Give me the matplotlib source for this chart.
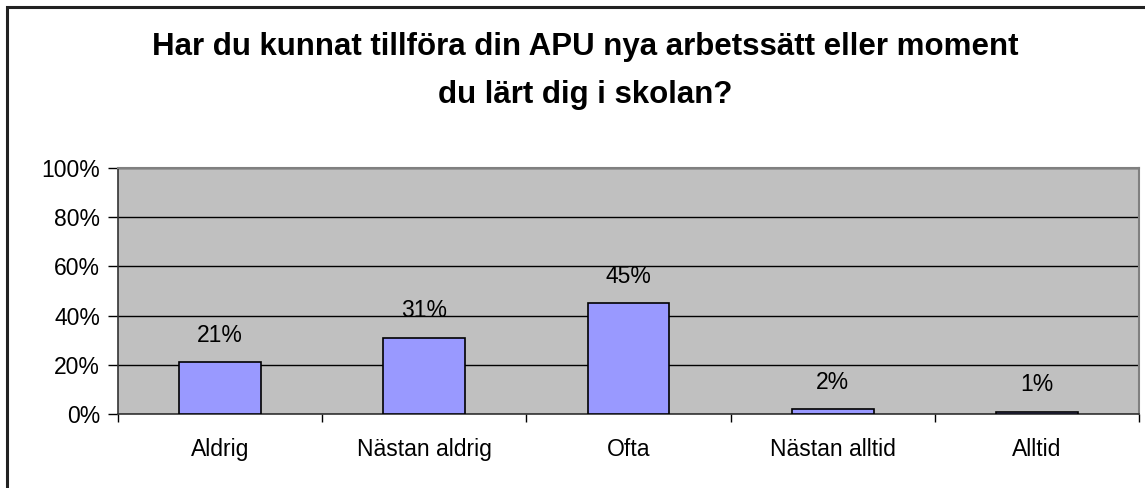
import matplotlib
matplotlib.use("Agg")
import matplotlib.pyplot as plt
from matplotlib.patches import Rectangle
from matplotlib.ticker import FixedLocator, NullFormatter

categories = ["Aldrig", "Nästan aldrig", "Ofta", "Nästan alltid", "Alltid"]
values = [21, 31, 45, 2, 1]
labels = ["21%", "31%", "45%", "2%", "1%"]
yticks = [0, 20, 40, 60, 80, 100]
ytick_labels = ["0%", "20%", "40%", "60%", "80%", "100%"]
title = "Har du kunnat tillföra din APU nya arbetssätt eller moment\ndu lärt dig i skolan?"

W, H = 1145, 488
fig = plt.figure(figsize=(W / 100, H / 100), dpi=100)
plt.rcParams['font.family'] = ['Liberation Sans', 'DejaVu Sans']

ax = fig.add_axes([118 / W, (H - 414) / H, (1139 - 118) / W, (414 - 168) / H])
ax.set_facecolor("#C0C0C0")
x = list(range(len(categories)))
ax.bar(x, values, width=0.4, color="#9999FF", edgecolor="black", linewidth=1.2, zorder=3)
for xi, v, lab in zip(x, values, labels):
    ax.annotate(lab, (xi, v), xytext=(0, 11), textcoords="offset points",
                ha="center", va="bottom", fontsize=16.5)

ax.set_xlim(-0.5, len(categories) - 0.5)
ax.set_ylim(0, 100)
ax.set_yticks(yticks)
ax.set_yticklabels(ytick_labels, fontsize=16.5)
ax.yaxis.grid(True, color="black", linewidth=1.0, zorder=1)
ax.set_axisbelow(True)
ax.tick_params(axis="y", length=7, width=1, direction="out", pad=6)

ax.set_xticks(x)
ax.set_xticklabels(categories, fontsize=16.5)
ax.tick_params(axis="x", length=0, pad=17)
ax.xaxis.set_minor_locator(FixedLocator([i - 0.5 for i in range(len(categories) + 1)]))
ax.xaxis.set_minor_formatter(NullFormatter())
ax.tick_params(axis="x", which="minor", length=6, width=1)

for s in ["top", "right"]:
    ax.spines[s].set_color("#808080")
    ax.spines[s].set_linewidth(1.5)
for s in ["left", "bottom"]:
    ax.spines[s].set_color("#333333")
    ax.spines[s].set_linewidth(1.2)

fig.text(585 / W, 1 - 71 / H, title, ha="center", va="center", fontsize=22.5,
         fontweight="bold", linespacing=1.75)

fig.patches.append(Rectangle((7 / W, -0.1), 1.2, (H - 7) / H + 0.1, transform=fig.transFigure,
                             fill=False, edgecolor="#222222", linewidth=2.2))

fig.savefig("out.png", dpi=100)
